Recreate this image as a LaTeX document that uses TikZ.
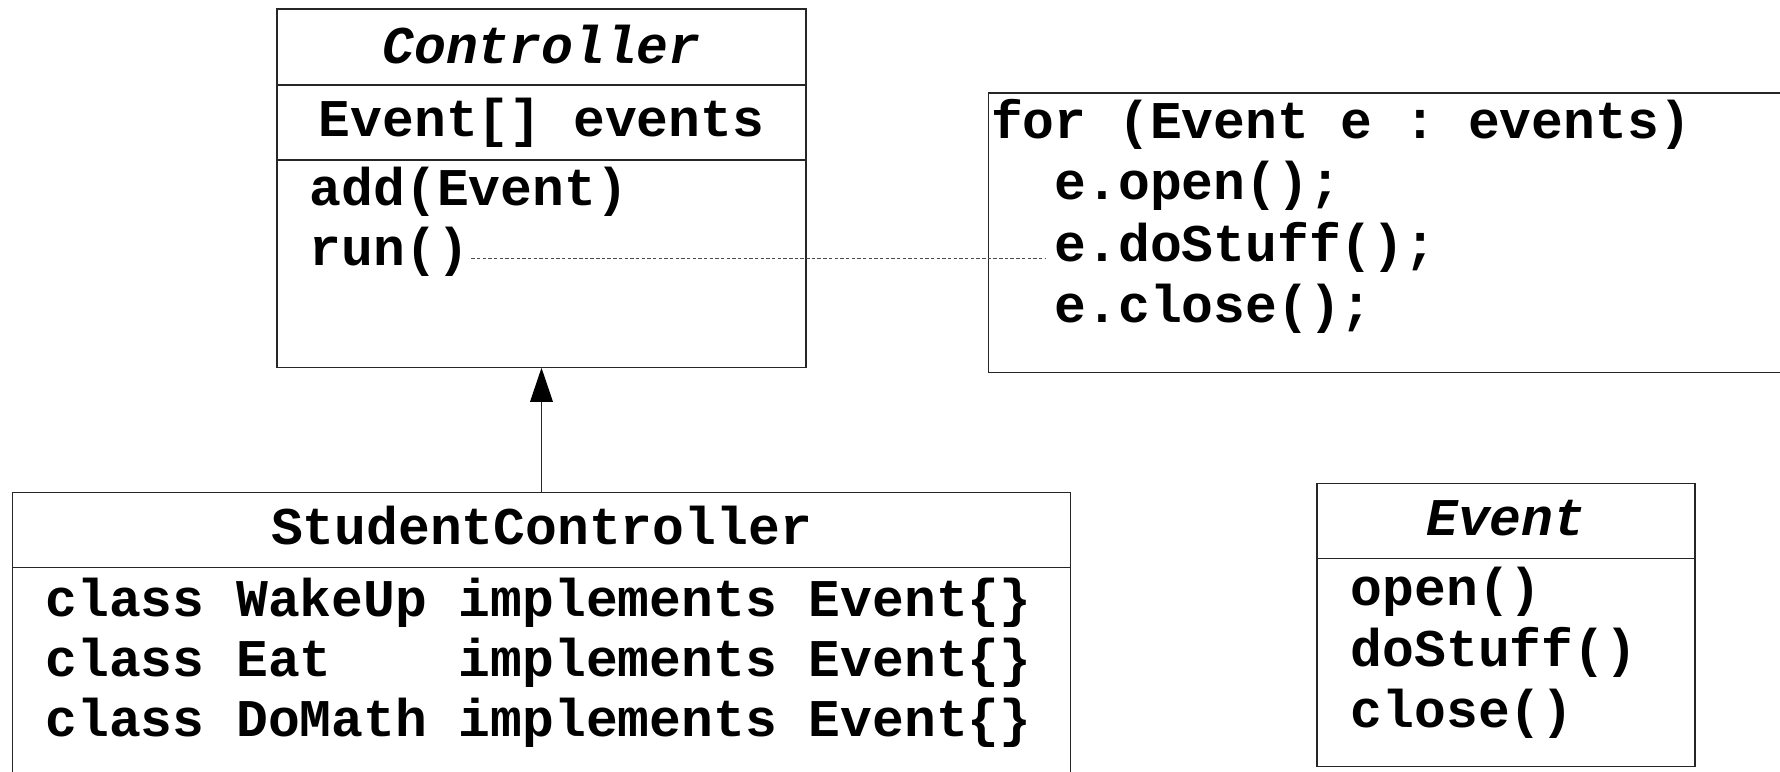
\documentclass[tikz,border=0pt]{standalone}
\usepackage{fontspec}
\setmonofont{Liberation Mono}
\usetikzlibrary{arrows.meta}
\begin{document}
\begin{tikzpicture}[x=0.5pt,y=-0.5pt,
  box/.style={draw=black!85, line width=0.6pt, rectangle, inner sep=0pt, outer sep=0pt},
  sep/.style={draw=black!85, line width=0.6pt},
  txt/.style={inner sep=0pt, outer sep=0pt, font=\fontsize{23.35}{28}\selectfont\ttfamily\bfseries},
  ttl/.style={inner sep=0pt, outer sep=0pt, font=\fontsize{23.35}{28}\selectfont\ttfamily\bfseries\itshape},
  link/.style={draw=black!70, line width=0.4pt, dash pattern=on 1.5pt off 1pt},
  inherit/.style={draw=black!85, line width=0.6pt, -{Triangle[length=15pt,width=10pt,color=black,fill=black]}}]
\clip (0,0) rectangle (1568,680);
\useasboundingbox (0,0) rectangle (1568,680);

% Controller class
\node[box, minimum width=233pt, minimum height=158pt] (ctrl) at (477,166) {};
\draw[sep] (ctrl.west |- 0,75) -- (ctrl.east |- 0,75);
\draw[sep] (ctrl.west |- 0,141) -- (ctrl.east |- 0,141);
\node[ttl, anchor=base] (ctrlname) at (477,56) {Controller};
\node[txt, anchor=base] (ctrlfield) at (477,120) {Event[] events};
\node[txt, anchor=base west] (add) at (273,181) {add(Event)};
\node[txt, anchor=base west] (run) at (273,234) {run()};

% body of run()
\node[box, minimum width=364.5pt, minimum height=123pt] (code) at (1235.5,205) {};
\node[txt, anchor=base west] (forline) at (873,122) {for (Event e : events)};
\node[txt, anchor=base west] (open) at (929,176) {e.open();};
\node[txt, anchor=base west] (dostuff) at (929,230) {e.doStuff();};
\node[txt, anchor=base west] (close) at (929,284) {e.close();};

\draw[link] ([xshift=1pt]run.east |- 0,228) -- ([xshift=-4pt]dostuff.west |- 0,228);

% StudentController class
\node[box, minimum width=466pt, minimum height=143pt] (student) at (477,577) {};
\draw[sep] (student.west |- 0,500) -- (student.east |- 0,500);
\node[txt, anchor=base] (studentname) at (477,480) {StudentController};
\node[txt, anchor=base west] (wake) at (40,543) {class WakeUp implements Event\{\}};
\node[txt, anchor=base west] (eat) at (40,596) {class Eat~~~~implements Event\{\}};
\node[txt, anchor=base west] (math) at (40,649) {class DoMath implements Event\{\}};

\draw[inherit] (student.north) -- (ctrl.south);

% Event interface
\node[box, minimum width=166.5pt, minimum height=124.5pt] (event) at (1326.5,550.5) {};
\draw[sep] (event.west |- 0,492) -- (event.east |- 0,492);
\node[ttl, anchor=base] (eventname) at (1326.5,472) {Event};
\node[txt, anchor=base west] (eopen) at (1190,533) {open()};
\node[txt, anchor=base west] (estuff) at (1190,587) {doStuff()};
\node[txt, anchor=base west] (eclose) at (1190,641) {close()};
\end{tikzpicture}
\end{document}
